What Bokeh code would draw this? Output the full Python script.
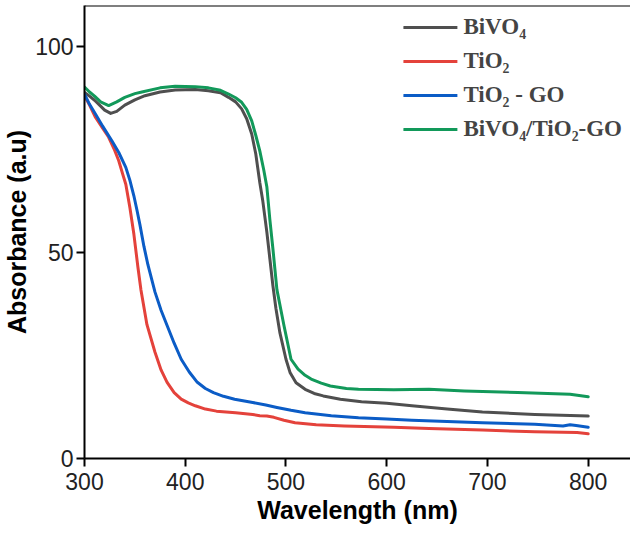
from bokeh.plotting import figure
from bokeh.models import Legend, LegendItem, Span, FixedTicker, Range1d
from bokeh.embed import file_html
from bokeh.resources import INLINE

# ---- data ----
wl_bivo4 = [300, 305, 310, 315, 320, 326, 332, 340, 350, 360, 375, 390, 410, 423, 435, 443, 450, 456,
            461, 466, 470, 474, 477, 481, 484, 487, 490, 494, 500, 504, 510, 519, 528, 537, 554, 575,
            600, 625, 660, 695, 747, 800]
abs_bivo4 = [88.9, 88.0, 87.0, 85.8, 84.6, 83.8, 84.3, 85.8, 87.1, 88.1, 89.0, 89.5, 89.6, 89.3, 88.8,
             87.7, 86.6, 84.9, 82.5, 78.8, 74.0, 67.0, 62.5, 55.0, 48.5, 42.0, 36.5, 30.5, 24.1, 20.9,
             18.4, 16.8, 15.8, 15.2, 14.4, 13.8, 13.4, 12.8, 12.0, 11.3, 10.7, 10.3]

wl_tio2 = [300, 305, 311, 318, 324, 330, 334, 338, 341, 345, 349, 353, 356, 362, 370, 376, 382, 389,
           396, 403, 410, 420, 431, 450, 467, 474, 481, 488, 498, 509, 530, 558, 607, 642, 695, 747,
           789, 800]
abs_tio2 = [88.1, 85.8, 82.8, 80.2, 78.0, 74.8, 72.3, 69.0, 66.6, 61.0, 54.5, 46.5, 41.0, 32.5, 25.8,
            21.5, 18.5, 16.0, 14.4, 13.5, 12.8, 12.0, 11.5, 11.1, 10.7, 10.4, 10.3, 10.0, 9.3, 8.7,
            8.2, 7.9, 7.6, 7.3, 6.9, 6.5, 6.3, 6.0]

wl_tio2_go = [300, 305, 311, 318, 327, 334, 341, 345, 349, 352, 355, 359, 363, 370, 376, 382, 389,
              396, 404, 412, 420, 428, 438, 449, 467, 480, 491, 505, 519, 545, 572, 600, 625, 660,
              695, 747, 775, 782, 788, 800]
abs_tio2_go = [88.5, 86.0, 83.6, 80.7, 77.2, 74.3, 70.7, 67.6, 63.8, 60.4, 56.8, 51.5, 47.0, 40.4,
               36.0, 32.3, 28.0, 24.1, 21.0, 18.5, 17.0, 16.0, 15.1, 14.4, 13.6, 13.0, 12.4, 11.7,
               11.1, 10.4, 9.9, 9.6, 9.3, 9.0, 8.7, 8.3, 7.9, 8.2, 8.0, 7.6]

wl_comp = [300, 305, 310, 316, 324, 332, 340, 350, 357, 375, 390, 410, 423, 435, 443, 450, 456, 461,
           466, 470, 474, 478, 481, 484, 487, 491, 498, 505, 512, 519, 525, 535, 544, 560, 572, 607,
           642, 677, 730, 782, 800]
abs_comp = [90.2, 89.0, 88.0, 86.6, 85.7, 86.6, 87.7, 88.6, 89.0, 90.0, 90.4, 90.3, 90.0, 89.4, 88.5,
            87.6, 86.5, 84.8, 82.0, 78.5, 74.7, 70.0, 66.0, 58.0, 51.0, 41.0, 32.3, 24.1, 21.7, 20.2,
            19.3, 18.3, 17.6, 17.0, 16.8, 16.7, 16.8, 16.4, 16.0, 15.6, 15.0]

series_labels = ["BiVO\u2084", "TiO\u2082", "TiO\u2082 - GO", "BiVO\u2084/TiO\u2082-GO"]
x_ticks = [300, 400, 500, 600, 700, 800]
y_ticks = [0, 50, 100]

colors = ["#4f4f4f", "#e4423b", "#0b5cc6", "#12995a"]

p = figure(width=630, height=528, x_range=Range1d(300, 842), y_range=Range1d(0, 110),
           output_backend="svg", toolbar_location=None,
           min_border_left=81, min_border_top=5, min_border_right=0, min_border_bottom=70)
p.outline_line_color = None
p.grid.visible = False
p.background_fill_color = "white"

renderers = []
for wl, ab, c in [(wl_bivo4, abs_bivo4, colors[0]), (wl_tio2, abs_tio2, colors[1]),
                  (wl_tio2_go, abs_tio2_go, colors[2]), (wl_comp, abs_comp, colors[3])]:
    r = p.line(wl, ab, line_color=c, line_width=3, line_join="round", line_cap="round")
    renderers.append(r)

# axes
for ax in (p.xaxis[0], p.yaxis[0]):
    ax.axis_line_width = 2
    ax.axis_line_color = "black"
    ax.major_tick_line_width = 2
    ax.major_tick_line_color = "black"
    ax.major_tick_out = 8
    ax.major_tick_in = 0
    ax.minor_tick_line_color = None
    ax.major_label_text_font = "Liberation Sans"
    ax.major_label_text_font_size = "23px"
    ax.major_label_text_color = "#222222"
    ax.axis_label_text_font = "Liberation Sans"
    ax.axis_label_text_font_style = "bold"
    ax.axis_label_text_font_size = "25px"
    ax.axis_label_text_color = "black"

p.xaxis.ticker = FixedTicker(ticks=x_ticks)
p.yaxis.ticker = FixedTicker(ticks=y_ticks)
p.xaxis.axis_label = "Wavelength (nm)"
p.yaxis.axis_label = "Absorbance (a.u)"
p.xaxis.major_label_standoff = 6
p.xaxis.axis_label_standoff = 3
p.yaxis.major_label_standoff = 3
p.yaxis.axis_label_standoff = 1

# top frame line
p.add_layout(Span(location=110, dimension="width", line_color="black", line_width=2))

legend = Legend(items=[LegendItem(label=lab, renderers=[r]) for lab, r in zip(series_labels, renderers)],
                location="top_right")
legend.label_text_font = "Liberation Serif"
legend.label_text_font_style = "bold"
legend.label_text_font_size = "23px"
legend.glyph_width = 54
legend.glyph_height = 28
legend.label_height = 28
legend.spacing = 6
legend.padding = 0
legend.margin = 8
legend.label_standoff = 6
legend.border_line_color = None
legend.background_fill_alpha = 0
p.add_layout(legend)

open("out.html", "w").write(file_html(p, INLINE))
